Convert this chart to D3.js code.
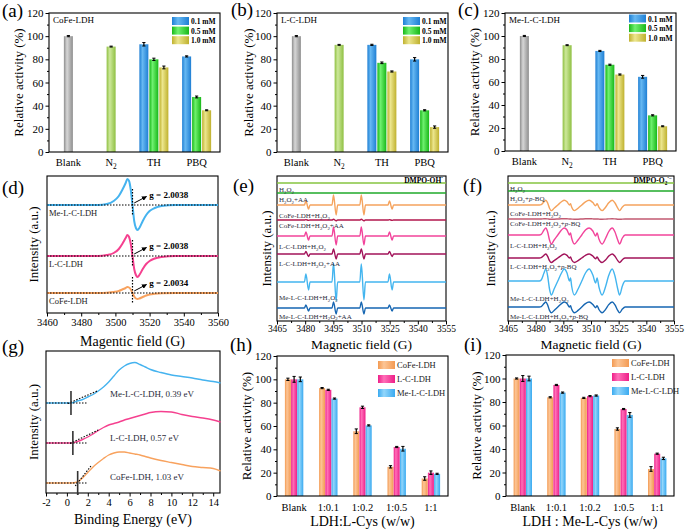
<!DOCTYPE html>
<html><head><meta charset="utf-8">
<script src="https://cdn.jsdelivr.net/npm/d3@7"></script>
<style>body{margin:0;background:#fff}svg{display:block}svg text{font-family:"Liberation Serif","DejaVu Serif",serif}</style>
</head><body><svg id="c" width="685" height="531"></svg>
<script>
// ---------------- DATA ----------------
const concLabels = ["0.1 mM", "0.5 mM", "1.0 mM"];
const abcCats = ["Blank", "N2", "TH", "PBQ"];
const abcCatLabels = ["Blank", "N_{2}", "TH", "PBQ"];
// panel (a) CoFe-LDH
const aBlank = 100, aN2 = 91;
const aTH = [93, 80, 73], aTHerr = [1.5, 1, 1.2];
const aPBQ = [82.5, 47.5, 36], aPBQerr = [0.5, 0.8, 0.4];
// panel (b) L-C-LDH
const bBlank = 100, bN2 = 92.5;
const bTH = [92.5, 77, 69.5], bTHerr = [0.5, 0.7, 0.5];
const bPBQ = [80, 36, 21.5], bPBQerr = [1.5, 0.5, 1];
// panel (c) Me-L-C-LDH
const cBlank = 100, cN2 = 92;
const cTH = [87, 75, 66.5], cTHerr = [0.5, 0.5, 0.5];
const cPBQ = [64.5, 31, 21.5], cPBQerr = [1.2, 0.5, 0.4];

// panel (d) EPR
const dFields = [3460,3490,3495,3499,3502,3504,3506,3507,3508,3509,3510,3511,3512,3513,3514,3516,3518,3520,3523,3527,3535,3560];
const dMe   = [0,0,1,4,9,15,22,26,24,15,0,-16,-23,-25,-23,-16,-10,-6,-3,-1,0,0];
const dLC   = [0,0,1,3,7,12,18,21,19,12,0,-13,-19,-21,-19,-13,-8,-5,-2.5,-1,0,0];
const dCoFe = [0,0,0.3,1,2,3.5,5,6,5.5,3.5,0,-3.5,-5.5,-6,-5.5,-4,-2.5,-1.5,-0.8,-0.3,0,0];
const dNames = ["Me-L-C-LDH", "L-C-LDH", "CoFe-LDH"];
const dGvals = ["g = 2.0038", "g = 2.0038", "g = 2.0034"];
const dOffsets = [108, 57, 20];

// panel (e) DMPO-OH
const eFields = [3465,3479.6,3480.4,3481.8,3482.6,3494.3,3495.1,3496.5,3497.3,3509.1,3509.9,3511.3,3512.1,3524.1,3524.9,3526.3,3527.1,3555];
const eH2O2      = [0,0,0,0,0,0,0,0,0,0,0,0,0,0,0,0,0,0];
const eH2O2AA    = [0,0,0,0,0,0,0,0,0,0,0,0,0,0,0,0,0,0];
const eCoFe      = [0,0,4,-4,0,0,10,-10,0,0,10,-10,0,0,4,-4,0,0];
const eCoFeAA    = [0,0,0.4,-0.4,0,0,0.8,-0.8,0,0,0.8,-0.8,0,0,0.4,-0.4,0,0];
const eLC        = [0,0,4,-4,0,0,9,-9,0,0,9,-9,0,0,4,-4,0,0];
const eLCAA      = [0,0,2.5,-2.5,0,0,5,-5,0,0,5,-5,0,0,2.5,-2.5,0,0];
const eMe        = [0,0,8,-8,0,0,19,-19,0,0,18,-18,0,0,8,-8,0,0];
const eMeAA      = [0,0,3,-3,0,0,6,-6,0,0,6,-6,0,0,3,-3,0,0];
const eLabels = ["H_{2}O_{2}","H_{2}O_{2}+AA","CoFe-LDH+H_{2}O_{2}","CoFe-LDH+H_{2}O_{2}+AA","L-C-LDH+H_{2}O_{2}","L-C-LDH+H_{2}O_{2}+AA","Me-L-C-LDH+H_{2}O_{2}","Me-L-C-LDH+H_{2}O_{2}+AA"];
const eOffsets = [138,128,116,101,85,67,39,13];

// panel (f) DMPO-O2
const fFields = [3465,3482,3483,3484.5,3485.5,3486.5,3487.5,3488.5,3490,3492,3494,3495.5,3497,3498.3,3498.9,3499.5,3501,3503,3505,3507,3509,3511,3512.5,3513.3,3514.3,3516,3518,3519.5,3521.5,3523,3524.5,3525.5,3527,3528.5,3555];
const fH2O2   = [0,0,0,0,0,0,0,0,0,0,0,0,0,0,0,0,0,0,0,0,0,0,0,0,0,0,0,0,0,0,0,0,0,0,0];
const fH2O2BQ = [0,0,0,0,0,0,0,0,0,0,0,0,0,0,0,0,0,0,0,0,0,0,0,0,0,0,0,0,0,0,0,0,0,0,0];
const fCoFe   = [0,0,0.4,3.2,4.8,2,-3.2,-5.6,-3.2,0,3.2,4.8,3.2,0,1.2,-2,-5.6,-3.2,0,3.2,4.8,2.4,-0.8,1.2,-2.4,-5.6,-2,2,4.8,2,-3.2,-5.6,-2,0,0];
const fCoFeBQ = [0,0,0,0.2,0.3,0.1,-0.2,-0.3,-0.2,0,0.2,0.3,0.2,0,0,-0.1,-0.3,-0.2,0,0.2,0.3,0.1,0,0,-0.1,-0.3,-0.1,0.1,0.3,0.1,-0.2,-0.3,-0.1,0,0];
const fLC     = [0,0,0.6,5,7,3,-5,-9,-5,0,5,7,5,0,2,-3,-9,-5,0,5,7,4,-1,2,-4,-9,-3,3,7,3,-5,-9,-3,0,0];
const fLCBQ   = [0,0,0.3,2.6,4,1.7,-2.6,-4.5,-2.6,0,2.6,4,2.6,0,1,-1.7,-4.5,-2.6,0,2.6,4,2,-0.7,1,-2,-4.5,-1.7,1.7,4,1.7,-2.6,-4.5,-1.7,0,0];
const fMe     = [0,0,1,8,12,5,-8,-14,-8,0,8,12,8,0,3,-5,-14,-8,0,8,12,6,-2,3,-6,-14,-5,5,12,5,-8,-14,-5,0,0];
const fMeBQ   = [0,0,0.4,3.4,5,2,-3.4,-5.8,-3.4,0,3.4,5,3.4,0,1.3,-2.1,-5.8,-3.4,0,3.4,5,2.5,-0.8,1.3,-2.5,-5.8,-2.1,2.1,5,2.1,-3.4,-5.8,-2.1,0,0];
const fLabels = ["H_{2}O_{2}","H_{2}O_{2}+*p*-BQ","CoFe-LDH+H_{2}O_{2}","CoFe-LDH+H_{2}O_{2}+*p*-BQ","L-C-LDH+H_{2}O_{2}","L-C-LDH+H_{2}O_{2}+*p*-BQ","Me-L-C-LDH+H_{2}O_{2}","Me-L-C-LDH+H_{2}O_{2}+*p*-BQ"];
const fOffsets = [138,130,116,102,86,63,40,14];

// panel (g) valence band
const gEnergy = [-2,-1,0,0.4,1,1.5,2,2.5,3,3.5,4,4.5,5,5.5,6,6.5,7,7.5,8,9,10,11,12,13,14,14.7];
const gMe   = [90,90,90,90,92,93.5,96,98.5,102,106,111,117,123,127,129.5,130.5,128.5,126,123.5,120.5,118,116.5,115,113,111.5,110];
const gLC   = [50,50,50,50,51.5,53.5,56,59,62.5,65.5,68,69.5,71,73,74.5,76,77.5,79,80.5,81.5,81,78.5,76.5,75,73,71];
const gCoFe = [10,10,10,10,11,15,20.5,26,30.5,34.5,38,40,41,41,40,39,38,36.5,35,32.5,30.5,28.5,26.5,25.5,24.5,22];
const gLabels = ["Me-L-C-LDH, 0.39 eV", "L-C-LDH, 0.57 eV", "CoFe-LDH, 1.03 eV"];
const gOnsets = [0.39, 0.57, 1.03];

// panel (h) / (i)
const hiCats = ["Blank", "1:0.1", "1:0.2", "1:0.5", "1:1"];
const hiSeries = ["CoFe-LDH", "L-C-LDH", "Me-L-C-LDH"];
const hCoFe = [100, 92.5, 55.5, 25, 15],   hCoFeErr = [1, 0.5, 2, 1, 1.5];
const hLC   = [100, 91, 76, 42, 20],       hLCErr   = [2.5, 0.5, 1, 0.5, 1.5];
const hMe   = [100, 83.5, 60.5, 40.5, 19], hMeErr   = [2, 0.5, 0.5, 2, 0.5];
const iCoFe = [100, 84, 83.5, 57, 23],     iCoFeErr = [0.5, 0.5, 0.5, 1, 2];
const iLC   = [100, 94.5, 85, 74, 36],     iLCErr   = [2.5, 0.5, 0.5, 0.5, 0.5];
const iMe   = [100, 88, 85.5, 69, 32],     iMeErr   = [2, 0.5, 0.5, 2, 1];
const yTicks = [0, 20, 40, 60, 80, 100, 120];

// ---------------- DRAWING ----------------
const FONT = '"Liberation Serif", "DejaVu Serif", serif';
const svg = d3.select('#c');
svg.append('rect').attr('width', 685).attr('height', 531).attr('fill', '#fff');
const defs = svg.append('defs');
function grad(id, edge, mid) {
  const g = defs.append('linearGradient').attr('id', id).attr('x1', 0).attr('x2', 1).attr('y1', 0).attr('y2', 0);
  g.append('stop').attr('offset', '0%').attr('stop-color', edge);
  g.append('stop').attr('offset', '35%').attr('stop-color', mid);
  g.append('stop').attr('offset', '100%').attr('stop-color', edge);
}
grad('gGray', '#8e8e8e', '#d6d6d6');
grad('gN2', '#8fc043', '#cde89a');
grad('gBlue', '#1f7fd4', '#66b8f2');
grad('gGreen', '#18b818', '#6ff06f');
grad('gYellow', '#bfb12e', '#ece68e');
grad('gOrange', '#f39a52', '#fcc596');
grad('gPink', '#ee1f88', '#ff6fb8');
grad('gLBlue', '#3aaaf0', '#92d6fb');
const concFills = ['gBlue', 'gGreen', 'gYellow'];
const hiFills = ['gOrange', 'gPink', 'gLBlue'];
defs.append('marker').attr('id', 'arr').attr('viewBox', '0 0 10 10').attr('refX', 9).attr('refY', 5)
  .attr('markerWidth', 5).attr('markerHeight', 5).attr('orient', 'auto')
  .append('path').attr('d', 'M0,0 L10,5 L0,10 z').attr('fill', '#000');

function rich(t, str, fs) {
  const parts = str.split(/(_\{[^}]*\}|\^\{[^}]*\}|\*[^*]*\*)/).filter(s => s);
  let cur = 0;
  parts.forEach(p => {
    let txt = p, off = 0, small = false, ital = false;
    if (p.startsWith('_{')) { txt = p.slice(2, -1); off = 0.28 * fs; small = true; }
    else if (p.startsWith('^{')) { txt = p.slice(2, -1); off = -0.4 * fs; small = true; }
    else if (p.startsWith('*')) { txt = p.slice(1, -1); ital = true; }
    const ts = t.append('tspan').text(txt).attr('dy', off - cur);
    cur = off;
    if (small) ts.style('font-size', (fs * 0.7) + 'px');
    if (ital) ts.style('font-style', 'italic');
  });
}
function txt(x, y, str, fs, opts = {}) {
  const t = svg.append('text').attr('x', x).attr('y', y)
    .style('font-family', FONT).style('font-size', fs + 'px')
    .attr('fill', opts.fill || '#000').attr('text-anchor', opts.anchor || 'start')
    .style('font-weight', opts.bold ? 'bold' : 'normal');
  if (opts.rot) t.attr('transform', `rotate(-90,${x},${y})`);
  rich(t, str, fs);
  return t;
}
function frame(xl, xr, yt, yb) {
  svg.append('rect').attr('x', xl).attr('y', yt).attr('width', xr - xl).attr('height', yb - yt)
    .attr('fill', 'none').attr('stroke', '#000').attr('stroke-width', 1.1);
}
function styleAxis(ag, fs) {
  ag.select('.domain').remove();
  ag.attr('font-family', null).attr('font-size', null);
  ag.selectAll('line').attr('stroke', '#000').attr('stroke-width', 1);
  ag.selectAll('text').attr('fill', '#000').style('font-family', FONT).style('font-size', fs + 'px');
}
function yAxis(y, xl) {
  const ag = svg.append('g').attr('transform', `translate(${xl},0)`)
    .call(d3.axisLeft(y).tickValues(yTicks).tickSize(3.5).tickPadding(2));
  styleAxis(ag, 11);
  const mg = svg.append('g').attr('transform', `translate(${xl},0)`)
    .call(d3.axisLeft(y).tickValues(d3.range(10, 120, 20)).tickSize(2).tickFormat(''));
  styleAxis(mg, 11);
}
function errorBars(data, xf, y) {
  data.forEach(d => {
    const cx = xf(d), y1 = y(d.v + d.e), y2 = y(d.v - d.e);
    svg.append('line').attr('x1', cx).attr('x2', cx).attr('y1', y1).attr('y2', y2).attr('stroke', '#000').attr('stroke-width', 1.2);
    [y1, y2].forEach(yy => svg.append('line').attr('x1', cx - 1.6).attr('x2', cx + 1.6).attr('y1', yy).attr('y2', yy).attr('stroke', '#000').attr('stroke-width', 1));
  });
}

// ---- bar panels (a)(b)(c)
function abcPanel(o) {
  const y = d3.scaleLinear().domain([0, 120]).range([o.yb, o.yt]);
  const x = d3.scalePoint().domain(abcCats).range([o.xl - 2, o.xr - 2]).padding(0.5);
  const bars = [
    { cat: 'Blank', off: 0, v: o.blank, e: 0.5, fill: 'gGray' },
    { cat: 'N2', off: 0, v: o.n2, e: 0.4, fill: 'gN2' },
    ...o.th.map((v, i) => ({ cat: 'TH', off: i - 1, v, e: o.thErr[i], fill: concFills[i] })),
    ...o.pbq.map((v, i) => ({ cat: 'PBQ', off: i - 1, v, e: o.pbqErr[i], fill: concFills[i] }))
  ];
  const bw = 9, step = 10;
  const cx = d => x(d.cat) + d.off * step;
  svg.append('g').selectAll('rect').data(bars).join('rect')
    .attr('x', d => cx(d) - bw / 2).attr('width', bw)
    .attr('y', d => y(d.v)).attr('height', d => y(0) - y(d.v))
    .attr('fill', d => `url(#${d.fill})`);
  errorBars(bars, cx, y);
  yAxis(y, o.xl);
  frame(o.xl, o.xr, o.yt, o.yb);
  abcCats.forEach((c, i) => txt(x(c), o.yb + 14, abcCatLabels[i], 10.5, { anchor: 'middle' }));
  txt(o.xl + 4, o.yt + 10, o.name, 9);
  concLabels.forEach((l, i) => {
    svg.append('rect').attr('x', o.lx).attr('y', o.ly + i * 9.6 - 4).attr('width', 17).attr('height', 8).attr('fill', `url(#${concFills[i]})`);
    txt(o.lx + 19, o.ly + i * 9.6 + 3, l, 7.5, { bold: true });
  });
  txt(o.ytx, (o.yt + o.yb) / 2, 'Relative activity (%)', 13, { anchor: 'middle', rot: true });
  txt(o.px, o.py, o.plabel, 19);
}
abcPanel({ xl: 49, xr: 220, yt: 13, yb: 152, blank: aBlank, n2: aN2, th: aTH, thErr: aTHerr, pbq: aPBQ, pbqErr: aPBQerr,
  name: 'CoFe-LDH', lx: 172, ly: 21, ytx: 23, px: 2, py: 17, plabel: '(a)' });
abcPanel({ xl: 277, xr: 448, yt: 13, yb: 152, blank: bBlank, n2: bN2, th: bTH, thErr: bTHerr, pbq: bPBQ, pbqErr: bPBQerr,
  name: 'L-C-LDH', lx: 403, ly: 21, ytx: 253, px: 231, py: 16, plabel: '(b)' });
abcPanel({ xl: 505, xr: 676, yt: 13, yb: 151, blank: cBlank, n2: cN2, th: cTH, thErr: cTHerr, pbq: cPBQ, pbqErr: cPBQerr,
  name: 'Me-L-C-LDH', lx: 629, ly: 18.5, ytx: 479, px: 458, py: 16, plabel: '(c)' });

// ---- generic line panel
function linePanel(o) {
  const x = d3.scaleLinear().domain(o.xdom).range([o.xl, o.xr]);
  const y = d3.scaleLinear().domain([0, o.yb - o.yt]).range([o.yb, o.yt]);
  const ag = svg.append('g').attr('transform', `translate(0,${o.yb})`)
    .call(d3.axisBottom(x).tickValues(o.ticks).tickSize(3.5).tickPadding(o.pad).tickFormat(d => String(d)));
  styleAxis(ag, o.tfs);
  const mg = svg.append('g').attr('transform', `translate(0,${o.yb})`)
    .call(d3.axisBottom(x).tickValues(o.minor).tickSize(2).tickFormat(''));
  styleAxis(mg, o.tfs);
  frame(o.xl, o.xr, o.yt, o.yb);
  txt((o.xl + o.xr) / 2, o.xty, o.xtitle, o.xfs || 14, { anchor: 'middle' });
  txt(o.ytx, (o.yt + o.yb) / 2, 'Intensity (a.u.)', 13, { anchor: 'middle', rot: true });
  txt(o.px, o.py, o.plabel, 19);
  return { x, y };
}
function drawTrace(p, xs, vs, off, color, w, curve) {
  const pts = xs.map((f, i) => [f, vs[i] + off]);
  svg.append('path').attr('d', d3.line().x(d => p.x(d[0])).y(d => p.y(d[1])).curve(curve)(pts))
    .attr('fill', 'none').attr('stroke', color).attr('stroke-width', w).attr('stroke-linejoin', 'round');
}

// ---- (d)
const pd = linePanel({ xl: 47, xr: 218, yt: 176, yb: 313, xdom: [3460, 3560], ticks: d3.range(3460, 3561, 20), minor: d3.range(3470, 3560, 20),
  pad: 2, tfs: 10.5, xty: 346, xtitle: 'Magentic field (G)', ytx: 38, px: 2, py: 194, plabel: '(d)' });
const dColors = ['#45b3ef', '#f5408f', '#f8a25e'];
[dMe, dLC, dCoFe].forEach((vs, i) => {
  const off = dOffsets[i];
  drawTrace(pd, dFields, vs, off, dColors[i], 2, d3.curveMonotoneX);
  const yb = pd.y(off);
  svg.append('line').attr('x1', 47).attr('x2', 218).attr('y1', yb).attr('y2', yb).attr('stroke', '#000').attr('stroke-width', 1.2).attr('stroke-dasharray', '1.5,1.5');
  svg.append('line').attr('x1', pd.x(3510)).attr('x2', pd.x(3510)).attr('y1', yb - 16).attr('y2', yb + 11).attr('stroke', '#000').attr('stroke-width', 1.2).attr('stroke-dasharray', '1.5,1.5');
  svg.append('line').attr('x1', pd.x(3511)).attr('y1', yb - 2).attr('x2', pd.x(3518.2)).attr('y2', yb - 8.5)
    .attr('stroke', '#000').attr('stroke-width', 1).attr('marker-end', 'url(#arr)');
  txt(pd.x(3519.8), yb - 7, dGvals[i], 9, { bold: true });
  txt(49, yb + 11, dNames[i], 8.5, { fill: '#222' });
});

// ---- (e)
const pe = linePanel({ xl: 277, xr: 446, yt: 176, yb: 321, xdom: [3465, 3555], ticks: d3.range(3465, 3556, 15), minor: d3.range(3472.5, 3555, 15),
  pad: 0.5, tfs: 9.5, xty: 349, xfs: 13.5, xtitle: 'Magnetic field (G)', ytx: 271, px: 233, py: 192, plabel: '(e)' });
const eColors = ['#86c440', '#1faa2a', '#f5a35d', '#b3174e', '#f2449b', '#a2135a', '#43b5ef', '#1666b2'];
[eH2O2, eH2O2AA, eCoFe, eCoFeAA, eLC, eLCAA, eMe, eMeAA].forEach((vs, i) => {
  drawTrace(pe, eFields, vs, eOffsets[i], eColors[i], 1.4, d3.curveMonotoneX);
});
const eLabY = [192, 202, 218, 228, 249, 266, 300, 318.5];
eLabels.forEach((l, i) => txt(279, eLabY[i], l, 7, { fill: '#2b2b3b' }));
txt(443, 183, 'DMPO-OH^{·}', 7.5, { bold: true, anchor: 'end' });

// ---- (f)
const pf = linePanel({ xl: 508, xr: 674, yt: 176, yb: 321, xdom: [3465, 3555], ticks: d3.range(3465, 3556, 15), minor: d3.range(3472.5, 3555, 15),
  pad: 0.5, tfs: 9.5, xty: 349, xfs: 13.5, xtitle: 'Magnetic field (G)', ytx: 495, px: 463, py: 192, plabel: '(f)' });
const fColors = ['#86c440', '#1faa2a', '#f5a35d', '#c25a72', '#f2449b', '#a2135a', '#43b5ef', '#1666b2'];
[fH2O2, fH2O2BQ, fCoFe, fCoFeBQ, fLC, fLCBQ, fMe, fMeBQ].forEach((vs, i) => {
  drawTrace(pf, fFields, vs, fOffsets[i], fColors[i], 1.4, d3.curveMonotoneX);
});
const fLabY = [191, 201, 216, 226, 248, 269, 301, 319];
fLabels.forEach((l, i) => txt(510, fLabY[i], l, 7, { fill: '#2b2b3b' }));
txt(672, 183, 'DMPO-O_{2}^{·−}', 7.5, { bold: true, anchor: 'end' });

// ---- (g)
const pg = linePanel({ xl: 46, xr: 220, yt: 351, yb: 493, xdom: [-2, 14.65], ticks: d3.range(-2, 15, 2), minor: d3.range(-1, 15, 2),
  pad: 2, tfs: 10.5, xty: 524, xtitle: 'Binding Energy (eV)', ytx: 38, px: 2, py: 353, plabel: '(g)' });
const gColors = ['#45b3ef', '#f5408f', '#f8a25e'];
[gMe, gLC, gCoFe].forEach((vs, i) => drawTrace(pg, gEnergy, vs, 0, gColors[i], 1.4, d3.curveMonotoneX));
const gBase = [gMe[0], gLC[0], gCoFe[0]];
const gTan = [[0.1, 89.5, 2.9, 102], [0.3, 49.5, 3, 63], [0.8, 7, 2.3, 27]];
gBase.forEach((b, i) => {
  svg.append('line').attr('x1', pg.x(-2)).attr('x2', pg.x(2)).attr('y1', pg.y(b)).attr('y2', pg.y(b)).attr('stroke', '#000').attr('stroke-width', 1.1).attr('stroke-dasharray', '1.5,1.5');
  const t = gTan[i];
  svg.append('line').attr('x1', pg.x(t[0])).attr('x2', pg.x(t[2])).attr('y1', pg.y(t[1])).attr('y2', pg.y(t[3])).attr('stroke', '#000').attr('stroke-width', 1.1).attr('stroke-dasharray', '1.5,1.5');
  svg.append('line').attr('x1', pg.x(gOnsets[i])).attr('x2', pg.x(gOnsets[i])).attr('y1', pg.y(b) - 12).attr('y2', pg.y(b) + 12).attr('stroke', '#333').attr('stroke-width', 1.6);
});
const gLabY = [397, 441, 480];
gLabels.forEach((l, i) => txt(110, gLabY[i], l, 9, { fill: '#2b2b3b' }));

// ---- (h) (i)
function hiPanel(o) {
  const y = d3.scaleLinear().domain([0, 120]).range([o.yb, o.yt]);
  const x = d3.scalePoint().domain(hiCats).range([o.xl, o.xr]).padding(0.5);
  const bw = 6, step = 6.2;
  const bars = [];
  o.series.forEach((s, si) => s.forEach((v, ci) => bars.push({ cat: hiCats[ci], si, v, e: o.errs[si][ci] })));
  const cx = d => x(d.cat) + (d.si - 1) * step;
  svg.append('g').selectAll('rect').data(bars).join('rect')
    .attr('x', d => cx(d) - bw / 2).attr('width', bw)
    .attr('y', d => y(d.v)).attr('height', d => y(0) - y(d.v))
    .attr('fill', d => `url(#${hiFills[d.si]})`);
  errorBars(bars, cx, y);
  yAxis(y, o.xl);
  frame(o.xl, o.xr, o.yt, o.yb);
  hiCats.forEach(c => txt(x(c), o.yb + 15, c, 10.5, { anchor: 'middle' }));
  txt((o.xl + o.xr) / 2, 526, o.xtitle, 14, { anchor: 'middle' });
  hiSeries.forEach((s, i) => {
    svg.append('rect').attr('x', o.lx).attr('y', o.ly + i * 14 - 4).attr('width', 17).attr('height', 8).attr('fill', `url(#${hiFills[i]})`);
    txt(o.lx + 19, o.ly + i * 14 + 3, s, 8.5, { fill: '#222' });
  });
  txt(o.ytx, (o.yt + o.yb) / 2, 'Relative activity (%)', 13, { anchor: 'middle', rot: true });
  txt(o.px, o.py, o.plabel, 19);
}
hiPanel({ xl: 277, xr: 448, yt: 356, yb: 496, series: [hCoFe, hLC, hMe], errs: [hCoFeErr, hLCErr, hMeErr],
  xtitle: 'LDH:L-Cys (w/w)', lx: 378, ly: 365, ytx: 251, px: 230, py: 351, plabel: '(h)' });
hiPanel({ xl: 506, xr: 674, yt: 355, yb: 496, series: [iCoFe, iLC, iMe], errs: [iCoFeErr, iLCErr, iMeErr],
  xtitle: 'LDH : Me-L-Cys (w/w)', lx: 612, ly: 363, ytx: 481, px: 464, py: 351, plabel: '(i)' });
</script>
</body></html>
